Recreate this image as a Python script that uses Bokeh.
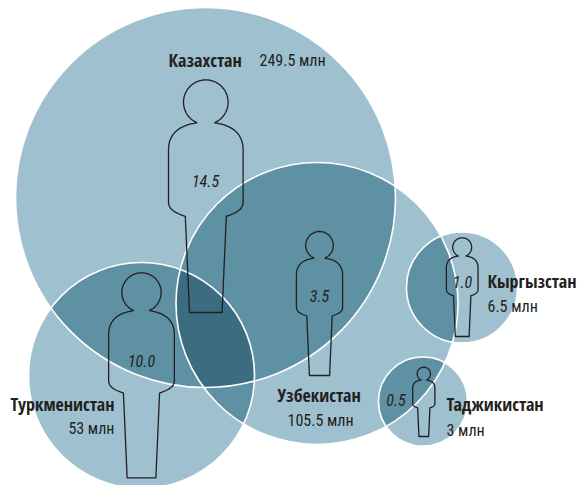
import numpy as np
from bokeh.plotting import figure
from bokeh.core.properties import value
from bokeh.embed import file_html
from bokeh.resources import INLINE

# Data
countries = ["Казахстан", "Узбекистан", "Туркменистан", "Кыргызстан", "Таджикистан"]
volumes = ["249.5 млн", "105.5 млн", "53 млн", "6.5 млн", "3 млн"]
per_person = ["14.5", "3.5", "10.0", "1.0", "0.5"]

# Layout (pixels in the picture)
circle_x = [205, 316.5, 141, 461.5, 422.5]
circle_y = [197, 303, 375, 287, 401]
circle_r = [190, 141, 113, 55.5, 44.5]
person_x = [205.3, 319, 141, 461.7, 423.3]
person_top = [79.4, 231, 272.3, 237.3, 366.7]
person_h = [232.6, 144, 205, 98.7, 69.3]
name_x = [168, 277, 114, 487, 446]
name_y = [59, 394, 403, 280, 403]
name_align = ["left", "left", "right", "left", "left"]
vol_x = [259, 287, 114, 487, 446]
vol_y = [60, 419.7, 428, 306, 429.7]
val_x = [205, 319, 141, 462, 395.5]
val_y = [180, 295, 360.7, 281.3, 399]

LIGHT, MID, DARK = "#9fc1cf", "#5f91a4", "#3b6c82"
INK = "#231f20"

p = figure(width=580, height=485, x_range=(0, 580), y_range=(485, 0),
           output_backend="svg", toolbar_location=None, min_border=0,
           outline_line_color=None)
p.axis.visible = False
p.grid.visible = False


def region(ids):
    pts = []
    for i in ids:
        t = np.linspace(0, 2 * np.pi, 1441)[:-1]
        xs = circle_x[i] + circle_r[i] * np.cos(t)
        ys = circle_y[i] + circle_r[i] * np.sin(t)
        keep = np.ones_like(xs, dtype=bool)
        for j in ids:
            if j != i:
                keep &= (xs - circle_x[j]) ** 2 + (ys - circle_y[j]) ** 2 <= circle_r[j] ** 2
        pts.append(np.column_stack([xs[keep], ys[keep]]))
    pts = np.vstack(pts)
    c = pts.mean(axis=0)
    order = np.argsort(np.arctan2(pts[:, 1] - c[1], pts[:, 0] - c[0]))
    return pts[order, 0].tolist(), pts[order, 1].tolist()


def bez(a, b, c, d, n=24):
    t = np.linspace(0, 1, n)[:, None]
    a, b, c, d = map(np.array, (a, b, c, d))
    return (1 - t) ** 3 * a + 3 * (1 - t) ** 2 * t * b + 3 * (1 - t) * t ** 2 * c + t ** 3 * d


def person_outline(cx, top, h):
    H = 232.6
    r = 22.3
    a0 = np.arctan2(19.7, -10.4)
    a1 = 2 * np.pi + np.arctan2(19.7, 10.4)
    angs = np.linspace(a0, a1, 80)
    head = np.column_stack([r * np.cos(angs), r + r * np.sin(angs)])
    # right half, from the neck down; the left half mirrors it
    right = np.vstack([
        [[10.4, 42.0], [9.0, 43.0]],
        bez((9.0, 43.0), (24, 45), (37.3, 52), (37.3, 70)),
        [[37.3, 122]],
        bez((37.3, 122), (37.3, 130), (30, 133), (20.5, 136.5), 14),
        [[16.3, 232.6]],
    ])
    left = right[::-1] * np.array([-1, 1])
    pts = np.vstack([head, right, left, head[:1]])
    k = h / H
    return (cx + pts[:, 0] * k).tolist(), (top + pts[:, 1] * k).tolist()


# fills
p.circle(circle_x, circle_y, radius=circle_r, fill_color=LIGHT, line_color=None)
pairs = [(0, 1), (0, 2), (1, 2), (1, 3), (1, 4)]
rs = [region(a) for a in pairs]
p.patches([r[0] for r in rs], [r[1] for r in rs], fill_color=MID, line_color=None)
tx, ty = region((0, 1, 2))
p.patch(tx, ty, fill_color=DARK, line_color=None)
# white rims
p.circle(circle_x, circle_y, radius=circle_r, fill_color=None, line_color="white", line_width=1.6)

# people
outl = [person_outline(a, b, c) for a, b, c in zip(person_x, person_top, person_h)]
p.multi_line([o[0] for o in outl], [o[1] for o in outl], line_color=INK, line_width=1.3, line_join="round")

# texts
p.text(name_x, name_y, text=countries, text_font=value("Open Sans Condensed"), text_font_style="bold",
       text_font_size="18px", text_color=INK, text_align=name_align, text_baseline="alphabetic")
p.text(vol_x, vol_y, text=volumes, text_font=value("Roboto Condensed"), text_font_size="16px",
       text_color=INK, text_align=name_align, text_baseline="alphabetic")
p.text(val_x, val_y, text=per_person, text_font=value("Roboto Condensed"), text_font_style="italic",
       text_font_size="16px", text_color=INK, text_align="center", text_baseline="alphabetic")

open("out.html", "w").write(file_html(p, INLINE))
